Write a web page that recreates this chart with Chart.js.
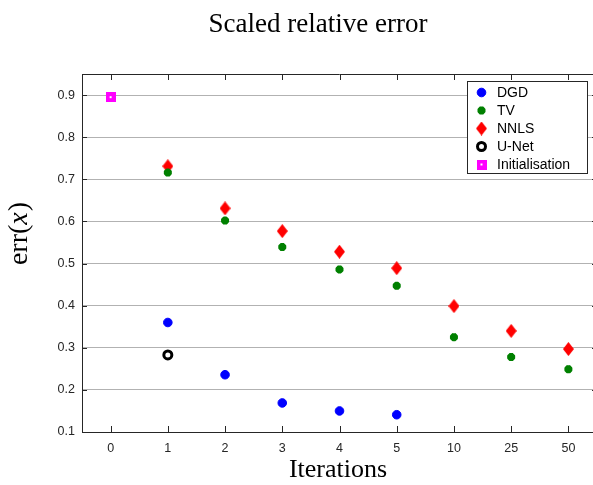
<!DOCTYPE html>
<html>
<head>
<meta charset="utf-8">
<script src="https://cdn.jsdelivr.net/npm/chart.js@4/dist/chart.umd.min.js"></script>
<style>
  html, body { margin: 0; padding: 0; background: #fff; overflow: hidden; }
  #wrap { position: absolute; left: 0; top: 0; width: 593px; height: 485px; overflow: hidden; }
  #my-canvas { position: absolute; left: 0; top: 0; }
</style>
</head>
<body>
<div id="wrap"><canvas id="my-canvas" width="597" height="485"></canvas></div>
<script>
const iterLabels = ['0', '1', '2', '3', '4', '5', '10', '25', '50'];
const dgdErr = [null, 0.360, 0.236, 0.169, 0.150, 0.141, null, null, null];
const tvErr = [null, 0.716, 0.602, 0.539, 0.486, 0.447, 0.325, 0.278, 0.249];
const nnlsErr = [null, 0.731, 0.631, 0.577, 0.528, 0.489, 0.399, 0.340, 0.297];
const unetErr = [null, 0.283, null, null, null, null, null, null, null];
const initErr = [0.895, null, null, null, null, null, null, null, null];
const yTicks = [0.1, 0.2, 0.3, 0.4, 0.5, 0.6, 0.7, 0.8, 0.9];

const SANS = "'Liberation Sans', Arial, Helvetica, sans-serif";
const SERIF = "'Liberation Serif', 'Times New Roman', serif";
const AXIS = '#262626';

// custom marker images
const diamond = (() => {
  const c = document.createElement('canvas');
  c.width = 11;
  c.height = 14;
  const ctx = c.getContext('2d');
  ctx.fillStyle = '#ff0000';
  ctx.beginPath();
  ctx.moveTo(5.5, 0);
  ctx.lineTo(11, 7);
  ctx.lineTo(5.5, 14);
  ctx.lineTo(0, 7);
  ctx.closePath();
  ctx.fill();
  return c;
})();

const square = (() => {
  const c = document.createElement('canvas');
  c.width = 10;
  c.height = 10;
  const ctx = c.getContext('2d');
  ctx.fillStyle = '#ff00ff';
  ctx.fillRect(0, 0, 10, 10);
  ctx.fillStyle = '#fff';
  ctx.fillRect(4, 4, 2, 2);
  return c;
})();

const boxPlugin = {
  id: 'boxPlugin',
  afterDraw(chart) {
    const { ctx, chartArea: a } = chart;
    const xs = chart.scales.x;
    const ys = chart.scales.y;
    ctx.save();

    // box + inward ticks
    ctx.strokeStyle = AXIS;
    ctx.lineWidth = 1;
    ctx.beginPath();
    ctx.moveTo(a.left, a.top + 0.5);
    ctx.lineTo(a.right, a.top + 0.5);
    ctx.moveTo(a.right - 0.5, a.top);
    ctx.lineTo(a.right - 0.5, a.bottom);
    iterLabels.forEach((l, i) => {
      const x = Math.round(xs.getPixelForValue(i)) + 0.5;
      ctx.moveTo(x, a.bottom);
      ctx.lineTo(x, a.bottom - 6);
      ctx.moveTo(x, a.top);
      ctx.lineTo(x, a.top + 6);
    });
    yTicks.forEach(v => {
      const y = Math.round(ys.getPixelForValue(v)) + 0.5;
      ctx.moveTo(a.left, y);
      ctx.lineTo(a.left + 5, y);
      ctx.moveTo(a.right, y);
      ctx.lineTo(a.right - 5, y);
    });
    ctx.stroke();

    // titles
    ctx.fillStyle = '#000';
    ctx.textAlign = 'center';
    ctx.textBaseline = 'alphabetic';
    ctx.font = `27px ${SERIF}`;
    ctx.fillText('Scaled relative error', 318, 32);
    ctx.font = `26px ${SERIF}`;
    ctx.fillText('Iterations', 338, 477);

    // y label: err(x) with italic x
    ctx.save();
    ctx.translate(27, 234);
    ctx.rotate(-Math.PI / 2);
    const partA = 'err(';
    const partB = 'x';
    const partC = ')';
    const fUp = `28px ${SERIF}`;
    const fIt = `italic 28px ${SERIF}`;
    ctx.font = fUp;
    const wA = ctx.measureText(partA).width;
    const wC = ctx.measureText(partC).width;
    ctx.font = fIt;
    const wB = ctx.measureText(partB).width;
    let x0 = -(wA + wB + wC) / 2;
    ctx.textAlign = 'left';
    ctx.font = fUp;
    ctx.fillText(partA, x0, 0);
    ctx.font = fIt;
    ctx.fillText(partB, x0 + wA, 0);
    ctx.font = fUp;
    ctx.fillText(partC, x0 + wA + wB + 1, 0);
    ctx.restore();

    // legend inside the axes
    const lx = 467.5, ly = 81.5, lw = 120, lh = 92;
    ctx.fillStyle = '#fff';
    ctx.fillRect(lx, ly, lw, lh);
    ctx.strokeStyle = AXIS;
    ctx.lineWidth = 1;
    ctx.strokeRect(lx, ly, lw, lh);
    ctx.font = `14px ${SANS}`;
    ctx.textAlign = 'left';
    ctx.textBaseline = 'middle';
    chart.data.datasets.forEach((ds, i) => {
      const y = 92.5 + i * 18;
      ctx.fillStyle = ds.backgroundColor;
      ctx.strokeStyle = ds.borderColor;
      ctx.lineWidth = ds.borderWidth;
      Chart.helpers.drawPoint(ctx, {
        pointStyle: ds.pointStyle,
        radius: ds.pointRadius,
        borderWidth: ds.borderWidth,
        rotation: 0,
      }, 481.5, y);
      ctx.fillStyle = '#000';
      ctx.fillText(ds.label, 497, y + 1);
    });

    ctx.restore();
  },
};

const config = {
  type: 'line',
  data: {
    labels: iterLabels,
    datasets: [
      {
        label: 'DGD',
        data: dgdErr,
        showLine: false,
        pointStyle: 'circle',
        pointRadius: 4.3,
        borderWidth: 1,
        backgroundColor: '#0000ff',
        borderColor: '#0000ff',
      },
      {
        label: 'TV',
        data: tvErr,
        showLine: false,
        pointStyle: 'star',
        pointRadius: 4,
        borderWidth: 3,
        backgroundColor: '#008000',
        borderColor: '#008000',
      },
      {
        label: 'NNLS',
        data: nnlsErr,
        showLine: false,
        pointStyle: diamond,
        pointRadius: 6,
        borderWidth: 0,
        backgroundColor: '#ff0000',
        borderColor: '#ff0000',
      },
      {
        label: 'U-Net',
        data: unetErr,
        showLine: false,
        pointStyle: 'circle',
        pointRadius: 4,
        borderWidth: 3,
        backgroundColor: '#ffffff',
        borderColor: '#000000',
      },
      {
        label: 'Initialisation',
        data: initErr,
        showLine: false,
        pointStyle: square,
        pointRadius: 5,
        borderWidth: 0,
        backgroundColor: '#ff00ff',
        borderColor: '#ff00ff',
      },
    ],
  },
  options: {
    responsive: false,
    animation: false,
    layout: { autoPadding: false, padding: { top: 74, right: 0, left: 0, bottom: 0 } },
    plugins: {
      legend: { display: false },
      title: { display: false },
      tooltip: { enabled: false },
    },
    scales: {
      x: {
        type: 'category',
        offset: true,
        grid: { display: false, drawTicks: false },
        border: { display: true, color: AXIS, width: 1 },
        ticks: { color: AXIS, font: { family: SANS, size: 12.5 }, padding: 9 },
        afterFit: scale => { scale.height = 53; },
      },
      y: {
        min: 0.1,
        max: 0.95,
        grid: { color: 'rgba(0,0,0,0.3)', drawTicks: false },
        border: { display: true, color: AXIS, width: 1 },
        ticks: {
          stepSize: 0.1,
          includeBounds: false,
          color: AXIS,
          font: { family: SANS, size: 12.5 },
          padding: 7,
          callback: v => v.toFixed(1),
        },
        afterBuildTicks: scale => {
          scale.ticks = yTicks.map(v => ({ value: v }));
        },
        afterFit: scale => { scale.width = 82; },
      },
    },
  },
  plugins: [boxPlugin],
};

new Chart('my-canvas', config);
</script>
</body>
</html>
